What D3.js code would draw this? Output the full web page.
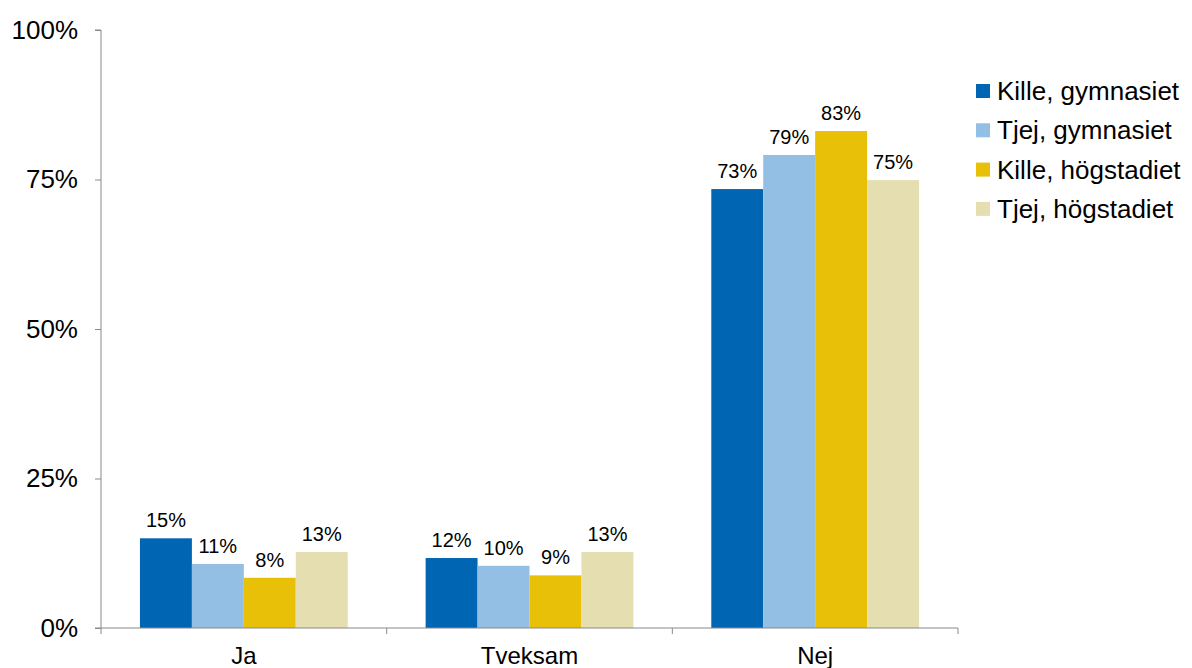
<!DOCTYPE html>
<html>
<head>
<meta charset="utf-8">
<script src="https://cdn.jsdelivr.net/npm/d3@7"></script>
<style>
  html, body { margin: 0; padding: 0; background: #fff; }
  svg { display: block; font-family: "Liberation Sans", Arial, sans-serif; }
</style>
</head>
<body>
<svg id="chart" width="1192" height="668"></svg>
<script>
const categories = ["Ja", "Tveksam", "Nej"];
const seriesNames = ["Kille, gymnasiet", "Tjej, gymnasiet", "Kille, högstadiet", "Tjej, högstadiet"];
const killeGymnasiet = [15.0, 11.7, 73.4];
const tjejGymnasiet = [10.7, 10.4, 79.1];
const killeHogstadiet = [8.4, 8.8, 83.1];
const tjejHogstadiet = [12.7, 12.7, 74.9];
const yTicks = [0, 25, 50, 75, 100];
const colors = ["#0066B3", "#92BFE3", "#E8C008", "#E4DEB0"];

(function () {
const seriesValues = [killeGymnasiet, tjejGymnasiet, killeHogstadiet, tjejHogstadiet];
const data = categories.map((c, i) => ({
  category: c,
  values: seriesNames.map((s, j) => ({ series: s, value: seriesValues[j][i] }))
}));

const svg = d3.select("#chart");
const mLeft = 101, mRight = 958, mTop = 30, mBottom = 628;
const axisColor = "#898989";

const x0 = d3.scaleBand().domain(categories).range([mLeft, mRight]).paddingInner(0).paddingOuter(0);
const x1 = d3.scaleBand().domain(seriesNames).range([0, x0.bandwidth()]).paddingInner(0).paddingOuter(0.75);
const y = d3.scaleLinear().domain([0, 100]).range([mBottom, mTop]);
const color = d3.scaleOrdinal().domain(seriesNames).range(colors);

// Y axis
const yAxis = svg.append("g").attr("transform", `translate(${mLeft},0)`)
  .call(d3.axisLeft(y).tickValues(yTicks).tickFormat(d => d + "%").tickSize(6).tickPadding(17));
yAxis.select(".domain").attr("stroke", axisColor).attr("d", `M-6,${mTop}H0V${mBottom}`);
yAxis.selectAll(".tick line").attr("stroke", axisColor);
yAxis.selectAll(".tick text").attr("font-size", 26).attr("fill", "#000")
  .attr("font-family", "'Liberation Sans', Arial, sans-serif").attr("dy", "0.32em");

// Bars
const groups = svg.append("g").selectAll("g").data(data).join("g")
  .attr("transform", d => `translate(${x0(d.category)},0)`);
groups.selectAll("rect").data(d => d.values).join("rect")
  .attr("x", d => x1(d.series))
  .attr("y", d => y(d.value))
  .attr("width", x1.bandwidth())
  .attr("height", d => y(0) - y(d.value))
  .attr("fill", d => color(d.series));
groups.selectAll("text").data(d => d.values).join("text")
  .attr("x", d => x1(d.series) + x1.bandwidth() / 2)
  .attr("y", d => y(d.value) - 11)
  .attr("text-anchor", "middle")
  .attr("font-size", 20)
  .attr("fill", "#000")
  .text(d => Math.round(d.value) + "%");

// X axis
const xAxisG = svg.append("g").attr("transform", `translate(0,${mBottom})`);
xAxisG.append("path").attr("d", `M${mLeft - 6},0H${mRight}`).attr("stroke", axisColor).attr("fill", "none");
const boundaries = categories.map(c => x0(c)).concat([x0(categories[categories.length - 1]) + x0.bandwidth()]);
xAxisG.selectAll("line.b").data(boundaries).join("line").attr("class", "b")
  .attr("x1", d => d).attr("x2", d => d).attr("y1", 0).attr("y2", 6)
  .attr("stroke", axisColor);
xAxisG.selectAll("text").data(categories).join("text")
  .attr("x", d => x0(d) + x0.bandwidth() / 2)
  .attr("y", 36)
  .attr("text-anchor", "middle")
  .attr("font-size", 24)
  .attr("fill", "#000")
  .text(d => d);

// Legend
const legend = svg.append("g").attr("transform", "translate(976,91)");
const items = legend.selectAll("g").data(seriesNames).join("g")
  .attr("transform", (d, i) => `translate(0,${i * 39.3})`);
items.append("rect").attr("x", 0).attr("y", -7).attr("width", 14).attr("height", 14)
  .attr("fill", d => color(d));
items.append("text").attr("x", 21).attr("y", 0).attr("dy", "0.35em")
  .attr("font-size", 26).attr("fill", "#000").text(d => d);
})();
</script>
</body>
</html>
